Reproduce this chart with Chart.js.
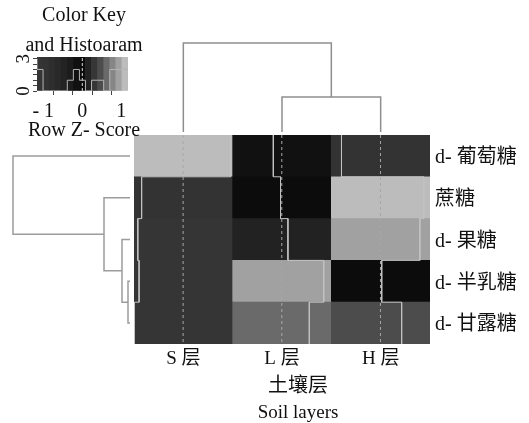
<!DOCTYPE html>
<html><head><meta charset="utf-8">
<script src="https://cdn.jsdelivr.net/npm/chart.js@4.4.0/dist/chart.umd.min.js"></script>
<style>
html,body{margin:0;padding:0;background:#fff;width:529px;height:423px;overflow:hidden}
canvas{position:absolute;display:block}
</style></head><body>
<canvas id="heat" width="529" height="423" style="left:0px;top:0px"></canvas>
<canvas id="rowDend" width="134" height="209" style="left:0px;top:135px"></canvas>
<canvas id="colDend" width="296" height="135" style="left:134px;top:0px"></canvas>
<canvas id="key" width="168" height="143" style="left:0px;top:0px"></canvas>
<script>
// ---------------- data ----------------
const soilLayers = ['S 层', 'L 层', 'H 层'];
const sugars = ['d- 葡萄糖', '蔗糖', 'd- 果糖', 'd- 半乳糖', 'd- 甘露糖'];
const axisTitleCN = '土壤层';
const axisTitleEN = 'Soil layers';
// row z-scores, columns in soilLayers order
const zGlucose   = [1.12, -0.20, -0.92];
const zSucrose   = [-0.98, -0.03, 1.02];
const zFructose  = [-1.07, 0.145, 0.93];
const zGalactose = [-1.04, 0.99, 0.03];
const zMannose   = [-1.15, 0.65, 0.50];
const zRows = [zGlucose, zSucrose, zFructose, zGalactose, zMannose];
// colour-key breaks (row z-score)
const keyBreaks = [-1.16, -1.005, -0.85, -0.694, -0.539, -0.384, -0.229, -0.074, 0.081, 0.237, 0.392, 0.547, 0.703, 0.858, 1.013, 1.17];
const keyTicks = [-1, -0.5, 0, 0.5, 1];
const keyTickLabels = ['- 1', '', '0', '', '1'];
const histTicks = [0, 0.5, 1, 1.5, 2, 2.5, 3];
const histTickLabels = ['0', '', '', '', '', '', '3'];
// dendrograms (R-style merge tables: negative = leaf, positive = earlier merge)
const rowMerge = [[-4, -5], [-3, 1], [-2, 2], [-1, 3]];
const rowHeights = [0.05, 0.2, 0.65, 2.925];
const colMerge = [[-2, -3], [-1, 1]];
const colHeights = [0.875, 2.225];

// ---------------- styles ----------------
const keyColors = ['#353535','#333333','#2e2e2e','#292929','#232323','#1c1c1c','#111111','#0c0c0c','#222222','#363636','#4c4c4c','#6a6a6a','#868686','#a1a1a1','#bcbcbc'];
const FONT = '"Liberation Serif", "Noto Sans CJK SC", serif';
const TXT = '#111111';
Chart.defaults.font.family = FONT;
Chart.defaults.color = TXT;
Chart.defaults.animation = false;
Chart.defaults.responsive = false;
Chart.defaults.devicePixelRatio = 1;
Chart.defaults.plugins.legend.display = false;
Chart.defaults.plugins.tooltip.enabled = false;

const zMin = keyBreaks[0], zMax = keyBreaks[keyBreaks.length - 1];
function binOf(z) {
  for (let i = 0; i < keyBreaks.length - 1; i++) if (z <= keyBreaks[i + 1]) return i;
  return keyBreaks.length - 2;
}

// ---------------- heatmap ----------------
const cells = [], cellColors = [];
zRows.forEach((row, r) => row.forEach((z, c) => {
  cells.push({x: c, y: [r - 0.5, r + 0.5]});
  cellColors.push(keyColors[binOf(z)]);
}));
const frac = z => (z - zMin) / (zMax - zMin);
const traceSets = soilLayers.map((_, c) => {
  const pts = [];
  zRows.forEach((row, r) => {
    const x = c - 0.5 + frac(row[c]);
    pts.push({x, y: r - 0.5}, {x, y: r + 0.5});
  });
  return {type: 'scatter', data: pts, showLine: true, borderColor: '#c2c2c2', borderWidth: 1, pointRadius: 0, order: 1};
});
const vlineSets = soilLayers.map((_, c) => ({
  type: 'scatter', data: [{x: c - 0.5 + frac(0), y: -0.5}, {x: c - 0.5 + frac(0), y: 4.5}],
  showLine: true, borderColor: '#a8a8a8', borderWidth: 1, borderDash: [3, 3], pointRadius: 0, order: 2
}));

// caption under the x axis (two lines, offset right of the middle column)
const captionPlugin = {
  id: 'caption',
  afterDraw(chart) {
    const ctx = chart.ctx, xs = chart.scales.x;
    const cx = xs.getPixelForValue(1) + 16;
    ctx.save();
    ctx.fillStyle = TXT;
    ctx.textAlign = 'center';
    ctx.textBaseline = 'middle';
    ctx.font = '20px ' + FONT;
    ctx.fillText(axisTitleCN, cx, xs.bottom - 36);
    ctx.font = '19px ' + FONT;
    ctx.fillText(axisTitleEN, cx, xs.bottom - 10);
    ctx.restore();
  }
};

new Chart(document.getElementById('heat'), {
  type: 'bar',
  data: {datasets: [...traceSets, ...vlineSets,
    {type: 'bar', data: cells, backgroundColor: cellColors, barPercentage: 1, categoryPercentage: 1, borderWidth: 0, order: 3}]},
  options: {
    layout: {padding: {left: 134, top: 135, right: 0, bottom: 0}},
    scales: {
      x: {type: 'linear', min: -0.5, max: 2.5, offset: false, position: 'bottom',
        grid: {display: false, drawTicks: false}, border: {display: false},
        afterBuildTicks: s => { s.ticks = soilLayers.map((_, i) => ({value: i})); },
        ticks: {callback: v => soilLayers[v], padding: 4, font: {size: 19}, autoSkip: false, maxRotation: 0, color: TXT},
        afterFit: s => { s.height = 79; }},
      y: {type: 'linear', min: -0.5, max: 4.5, reverse: true, position: 'right',
        grid: {display: false, drawTicks: false}, border: {display: false},
        afterBuildTicks: s => { s.ticks = sugars.map((_, i) => ({value: i})); },
        ticks: {callback: v => sugars[v], padding: 5, labelOffset: 2, font: {size: 20}, autoSkip: false, color: TXT},
        afterFit: s => { s.width = 99; }}
    }
  },
  plugins: [captionPlugin]
});

// ---------------- dendrograms ----------------
function dendroLinks(merge, heights) {
  const nodes = [];
  const get = k => k < 0 ? {pos: -k - 1, h: 0} : nodes[k - 1];
  const links = [];
  merge.forEach(([a, b], i) => {
    const A = get(a), B = get(b), h = heights[i];
    links.push([[A.pos, A.h], [A.pos, h], [B.pos, h], [B.pos, B.h]]);
    nodes.push({pos: (A.pos + B.pos) / 2, h});
  });
  return links;
}
const lineStyle = (color) => ({type: 'scatter', showLine: true, borderColor: color, borderWidth: 1.5, pointRadius: 0, clip: false});

new Chart(document.getElementById('rowDend'), {
  type: 'scatter',
  data: {datasets: dendroLinks(rowMerge, rowHeights).map(l => ({...lineStyle('#9c9c9c'), data: l.map(([p, h]) => ({x: h, y: p}))}))},
  options: {
    layout: {padding: {left: 13, right: 4, top: 0, bottom: 0}},
    scales: {
      x: {type: 'linear', reverse: true, min: 0, max: rowHeights[rowHeights.length - 1], display: false},
      y: {type: 'linear', reverse: true, min: -0.5, max: 4.5, display: false}
    }
  }
});

new Chart(document.getElementById('colDend'), {
  type: 'scatter',
  data: {datasets: dendroLinks(colMerge, colHeights).map(l => ({...lineStyle('#8e8e8e'), data: l.map(([p, h]) => ({x: p, y: h}))}))},
  options: {
    layout: {padding: {left: 0, right: 0, top: 43, bottom: 3}},
    scales: {
      x: {type: 'linear', min: -0.5, max: 2.5, display: false},
      y: {type: 'linear', min: 0, max: colHeights[colHeights.length - 1], display: false}
    }
  }
});

// ---------------- colour key + histogram ----------------
const allZ = zRows.flat();
const counts = keyColors.map(() => 0);
allZ.forEach(z => counts[binOf(z)]++);
const histMax = Math.max(...counts) / 0.95;
const histPts = keyBreaks.map((b, i) => ({x: b, y: counts[Math.min(i, counts.length - 1)]}));
const keyBars = keyColors.map((_, i) => ({x: (keyBreaks[i] + keyBreaks[i + 1]) / 2, y: [0, histMax]}));

new Chart(document.getElementById('key'), {
  type: 'bar',
  data: {datasets: [
    {type: 'scatter', data: histPts, showLine: true, stepped: 'after', borderColor: '#b4b4b4', borderWidth: 1, pointRadius: 0, order: 1},
    {type: 'scatter', data: [{x: 0, y: 0}, {x: 0, y: histMax}], showLine: true, borderColor: '#d8d8d8', borderWidth: 1, borderDash: [3, 2], pointRadius: 0, order: 2},
    {type: 'bar', data: keyBars, backgroundColor: keyColors, barPercentage: 1, categoryPercentage: 1, borderWidth: 0, order: 3}
  ]},
  options: {
    layout: {padding: 0},
    plugins: {
      title: {display: true, text: ['Color Key', 'and Histoaram'], font: {size: 20, weight: 'normal', lineHeight: 1.5}, padding: {top: 1, bottom: -4}, color: TXT},
      subtitle: {display: true, position: 'bottom', text: 'Row Z- Score', font: {size: 20, weight: 'normal', lineHeight: 1.2}, padding: 0, color: TXT}
    },
    scales: {
      x: {type: 'linear', min: zMin, max: zMax, offset: false,
        grid: {display: true, drawOnChartArea: false, drawTicks: true, tickLength: 4, tickColor: '#444'}, border: {display: false},
        afterBuildTicks: s => { s.ticks = keyTicks.map(v => ({value: v})); },
        ticks: {callback: (v, i) => keyTickLabels[i], padding: 5, font: {size: 20}, autoSkip: false, maxRotation: 0, color: TXT},
        afterFit: s => { s.height = 28; }},
      y: {type: 'linear', min: 0, max: histMax, position: 'left',
        grid: {display: true, drawOnChartArea: false, drawTicks: true, tickLength: 4, tickColor: '#444'}, border: {display: false},
        afterBuildTicks: s => { s.ticks = histTicks.map(v => ({value: v})); },
        ticks: {callback: (v, i) => histTickLabels[i], padding: 4, font: {size: 19}, autoSkip: false, minRotation: 90, maxRotation: 90, crossAlign: 'center', color: TXT},
        afterFit: s => { s.width = 37; }},
      spacer: {type: 'linear', position: 'right', display: true, grid: {display: false, drawTicks: false}, border: {display: false},
        ticks: {display: false}, afterFit: s => { s.width = 40; }}
    }
  }
});
</script>
</body></html>
